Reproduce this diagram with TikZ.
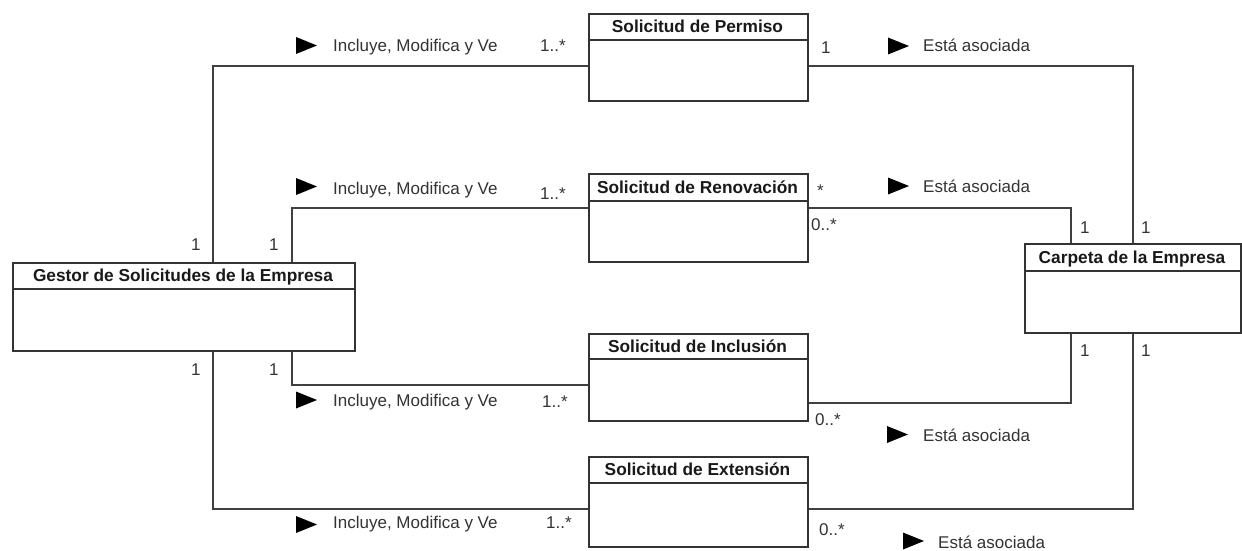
\documentclass[tikz,border=0pt]{standalone}
\usepackage{fontspec}
\setmainfont{Liberation Sans}
\usetikzlibrary{calc}

\tikzset{
  classbox/.style={draw=black!80, line width=1.6pt, fill=white, inner sep=0pt, anchor=north west},
  classline/.style={draw=black!80, line width=1.6pt},
  assoc/.style={draw=black!75, line width=1.4pt},
  title/.style={font=\bfseries\fontsize{17.3}{20}\selectfont, inner sep=0pt, anchor=base, text=black!90},
  lbl/.style={font=\fontsize{17}{20}\selectfont, inner sep=0pt, anchor=base west, text=black!80},
  dirmark/.style={fill=black},
}

% class box: name, x1, y1, x2, y2, bottom of the name compartment, class name
\newcommand\umlclass[7]{%
  \node[classbox, minimum width={#4pt-#2pt}, minimum height={#5pt-#3pt}] (#1) at (#2,#3) {};
  \draw[classline] (#2,#6) -- (#4,#6);
  \node[title] (#1-title) at ({(#2+#4)/2},{(#3+#6)/2+6.4}) {#7};
}

% reading-direction triangle: left x, centre y
\newcommand\dirmark[2]{%
  \fill[dirmark] (#1,{#2-8.5}) -- ({#1+21},#2) -- (#1,{#2+8.5}) -- cycle;
}

\begin{document}
\begin{tikzpicture}[x=1pt, y=-1pt]
  \useasboundingbox (0,0) rectangle (1242,551);
  \fill[white] (0,0) rectangle (1242,551);

  % classes
  \umlclass{gestor}{12}{262}{354}{350}{289}{Gestor de Solicitudes de la Empresa}
  \umlclass{permiso}{588}{13}{807}{100}{40}{Solicitud de Permiso}
  \umlclass{renov}{588}{173}{807}{261}{201}{Solicitud de Renovación}
  \umlclass{incl}{588}{333}{807}{420}{359}{Solicitud de Inclusión}
  \umlclass{ext}{588}{456}{807}{546}{483}{Solicitud de Extensión}
  \umlclass{carpeta}{1024}{243}{1240}{332}{271}{Carpeta de la Empresa}

  % routing columns and rows of the associations
  \coordinate (colA) at (213,0);
  \coordinate (colB) at (292,0);
  \coordinate (colC) at (1071,0);
  \coordinate (colD) at (1133,0);
  \coordinate (rowP) at (0,66);
  \coordinate (rowR) at (0,208);
  \coordinate (rowI) at (0,385);
  \coordinate (rowIr) at (0,403);
  \coordinate (rowE) at (0,509);

  % associations from the manager to each request
  \draw[assoc] (gestor.north -| colA) |- (permiso.west |- rowP);
  \draw[assoc] (gestor.north -| colB) |- (renov.west |- rowR);
  \draw[assoc] (gestor.south -| colB) |- (incl.west |- rowI);
  \draw[assoc] (gestor.south -| colA) |- (ext.west |- rowE);

  % associations from each request to the company folder
  \draw[assoc] (permiso.east |- rowP) -| (carpeta.north -| colD);
  \draw[assoc] (renov.east |- rowR) -| (carpeta.north -| colC);
  \draw[assoc] (incl.east |- rowIr) -| (carpeta.south -| colC);
  \draw[assoc] (ext.east |- rowE) -| (carpeta.south -| colD);

  % role names with reading direction
  \dirmark{296}{45.5}
  \node[lbl] (nP) at (333,52) {Incluye, Modifica y Ve};
  \dirmark{296}{186.5}
  \node[lbl] (nR) at (333,194) {Incluye, Modifica y Ve};
  \dirmark{296}{400}
  \node[lbl] (nI) at (333,406) {Incluye, Modifica y Ve};
  \dirmark{296}{524.5}
  \node[lbl] (nE) at (333,528) {Incluye, Modifica y Ve};

  \dirmark{888}{46}
  \node[lbl] (aP) at (923,52) {Está asociada};
  \dirmark{888}{186}
  \node[lbl] (aR) at (923,192) {Está asociada};
  \dirmark{887}{434.5}
  \node[lbl] (aI) at (923,441) {Está asociada};
  \dirmark{903}{541}
  \node[lbl] (aE) at (938,548) {Está asociada};

  % multiplicities on the manager side
  \node[lbl] (mg1) at (191,250) {1};
  \node[lbl] (mg2) at (269,250) {1};
  \node[lbl] (mg3) at (191,375) {1};
  \node[lbl] (mg4) at (269,375) {1};

  % multiplicities on the request side
  \node[lbl] (mpL) at (540,52) {1..*};
  \node[lbl] (mrL) at (540,199) {1..*};
  \node[lbl] (miL) at (542,407) {1..*};
  \node[lbl] (meL) at (546,528) {1..*};
  \node[lbl] (mpR) at (821,53) {1};
  \node[lbl] (mrR) at (817,196) {*};
  \node[lbl] (mrR2) at (811,230) {0..*};
  \node[lbl] (miR) at (815,425) {0..*};
  \node[lbl] (meR) at (819,535) {0..*};

  % multiplicities on the folder side
  \node[lbl] (mc1) at (1080,233) {1};
  \node[lbl] (mc2) at (1141,233) {1};
  \node[lbl] (mc3) at (1080,356) {1};
  \node[lbl] (mc4) at (1141,356) {1};
\end{tikzpicture}
\end{document}
